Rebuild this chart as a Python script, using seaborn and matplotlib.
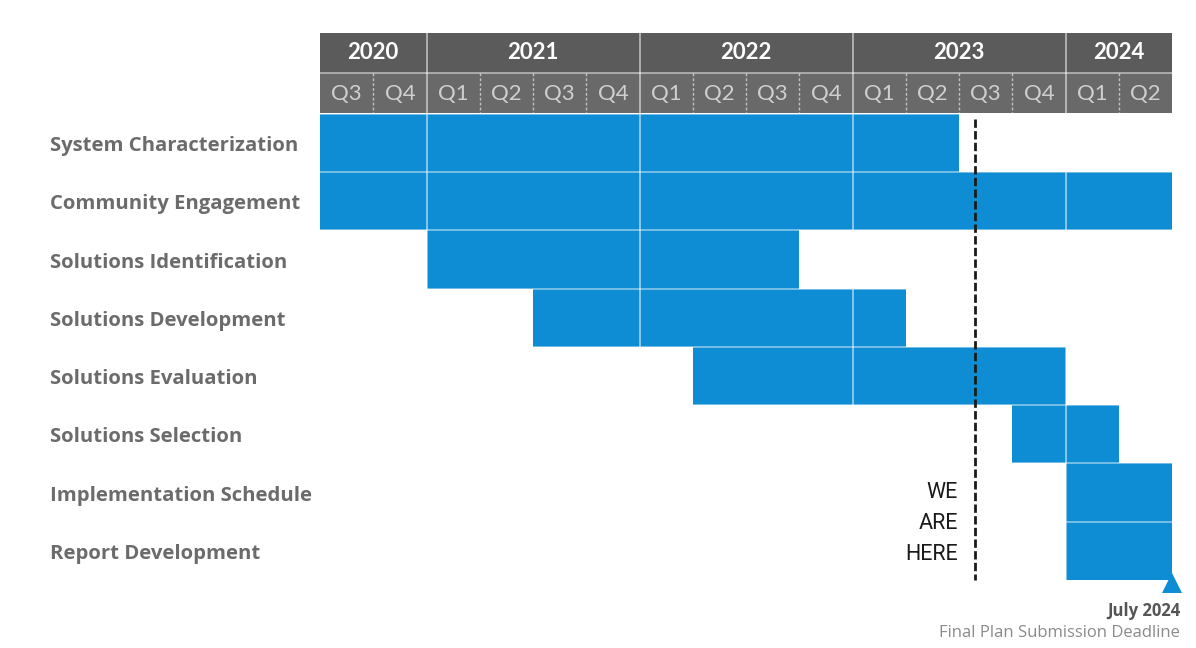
import matplotlib
matplotlib.use("Agg")
import matplotlib.pyplot as plt
import matplotlib.transforms as mtransforms
from matplotlib.patches import Rectangle
import numpy as np
import pandas as pd
import seaborn as sns

# Project phases; quarter index 0 = 2020 Q3, 16 = end of 2024 Q2
tasks = [
    "System Characterization",
    "Community Engagement",
    "Solutions Identification",
    "Solutions Development",
    "Solutions Evaluation",
    "Solutions Selection",
    "Implementation Schedule",
    "Report Development",
]
task_start = [0, 0, 2, 4, 7, 13, 14, 14]
task_end = [12, 16, 9, 11, 14, 15, 16, 16]

years = ["2020", "2021", "2022", "2023", "2024"]
year_quarters = [2, 4, 4, 4, 2]
quarter_labels = ["Q3", "Q4", "Q1", "Q2", "Q3", "Q4", "Q1", "Q2",
                  "Q3", "Q4", "Q1", "Q2", "Q3", "Q4", "Q1", "Q2"]

today_marker = 12.3
marker_text = "WE\nARE\nHERE"
deadline_date = "July 2024"
deadline_text = "Final Plan Submission Deadline"

BLUE = "#0e8cd4"
YEAR_BG = "#5b5b5b"
QUARTER_BG = "#696969"
LABEL_GRAY = "#6b6b6b"

sns.set_theme(style="white")
plt.rcParams["font.family"] = ["Lato", "DejaVu Sans"]

W, H = 1196, 648
fig = plt.figure(figsize=(W / 100, H / 100), dpi=100)
ax = fig.add_axes([320 / W, 1 - 580 / H, 852 / W, 547 / H])

df = pd.DataFrame({
    "task": tasks,
    "start": task_start,
    "duration": np.array(task_end) - np.array(task_start),
})

sns.barplot(data=df, y="task", x="duration", left=df["start"].to_numpy(),
            orient="y", color=BLUE, saturation=1, width=1.0,
            errorbar=None, linewidth=0, ax=ax)

n_q = len(quarter_labels)
y_top, y_mid, y_bot = -1.89, -1.204, -0.517
ax.set_xlim(0, n_q)
ax.set_ylim(len(tasks) - 0.5, y_top)
ax.set_axis_off()

# Header: year row and quarter row
ax.add_patch(Rectangle((0, y_top), n_q, y_mid - y_top, facecolor=YEAR_BG,
                       edgecolor="none", zorder=3))
ax.add_patch(Rectangle((0, y_mid), n_q, y_bot - y_mid, facecolor=QUARTER_BG,
                       edgecolor="none", zorder=3))
ax.plot([0, n_q], [y_mid, y_mid], color="white", alpha=0.55, lw=1.2, zorder=4)

pos = 0
year_edges = []
for yr, nq in zip(years, year_quarters):
    ax.text(pos + nq / 2, (y_top + y_mid) / 2, yr, ha="center", va="center",
            color="white", fontsize=16, fontweight="bold", zorder=5)
    pos += nq
    year_edges.append(pos)

for i, q in enumerate(quarter_labels):
    ax.text(i + 0.5, (y_mid + y_bot) / 2 + 0.02, q, ha="center", va="center",
            color="#cfcfcf", fontsize=16, zorder=5)

# Quarter dividers inside the quarter row
for i in range(1, n_q):
    if i not in year_edges:
        ax.plot([i, i], [y_mid, y_bot], color="white", alpha=0.6, lw=1,
                ls=(0, (2, 1.5)), zorder=4)

# Year dividers through header and bars
for e in year_edges[:-1]:
    ax.plot([e, e], [y_top, len(tasks) - 0.5], color="white", alpha=0.55,
            lw=1.3, zorder=4)

# Row separators between stacked bars
for r in range(len(tasks) - 1):
    ax.plot([0, n_q], [r + 0.5, r + 0.5], color="white", alpha=0.5, lw=1.2,
            zorder=4)
ax.plot([0, n_q], [-0.5, -0.5], color="white", alpha=0.5, lw=1.2, zorder=4)

# Task labels on the left
trans = mtransforms.blended_transform_factory(fig.transFigure, ax.transData)
for i, t in enumerate(tasks):
    ax.text(50 / W, i + 0.05, t, transform=trans, ha="left", va="center",
            color=LABEL_GRAY, fontsize=14.6, fontweight="bold",
            family=["Open Sans", "DejaVu Sans"])

# Current position marker
ax.plot([today_marker, today_marker], [-0.42, len(tasks) - 0.5], color="#1a1a1a",
        lw=2, ls=(0, (3, 1.2)), zorder=6, clip_on=False)
ax.text(today_marker - 0.32, 6.53, marker_text, ha="right", va="center",
        multialignment="right", color="#1a1a1a", fontsize=15.5,
        family=["Roboto", "DejaVu Sans"], linespacing=1.62, zorder=6)

# Deadline marker
ax.plot([n_q], [len(tasks) - 0.45], marker="^", markersize=15, color=BLUE,
        markeredgewidth=0, clip_on=False, zorder=6)
fig.text(1180 / W, 1 - 611 / H, deadline_date, ha="right", va="center",
         color="#555555", fontsize=12, fontweight="bold",
         family=["Open Sans", "DejaVu Sans"])
fig.text(1180 / W, 1 - 633 / H, deadline_text, ha="right", va="center",
         color="#8a8a8a", fontsize=12, family=["Open Sans", "DejaVu Sans"])

fig.savefig("out.png", dpi=100, facecolor="white")
